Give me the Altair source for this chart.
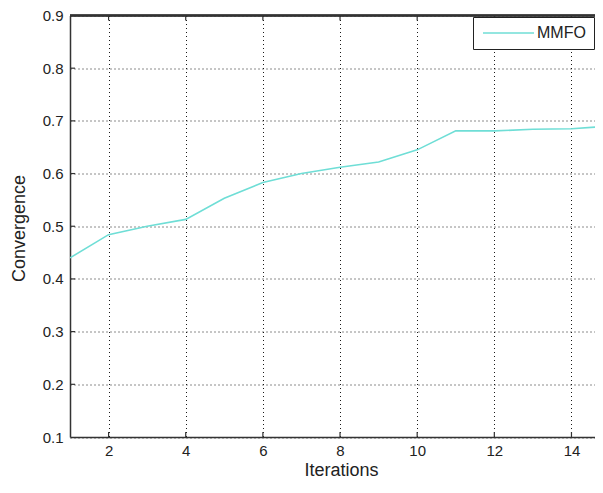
import altair as alt
import pandas as pd

iterations = list(range(1, 16))
convergence = [0.44, 0.484, 0.50, 0.513, 0.553, 0.583, 0.60, 0.612, 0.622,
               0.645, 0.681, 0.681, 0.684, 0.685, 0.69]
series_name = "MMFO"
x_ticks = [2, 4, 6, 8, 10, 12, 14]
y_ticks = [0.1, 0.2, 0.3, 0.4, 0.5, 0.6, 0.7, 0.8, 0.9]

W, H = 525, 421.5
FONT = "Liberation Sans"
LINE_COLOR = "#6fded6"

df = pd.DataFrame({"it": iterations, "val": convergence, "s": [series_name] * len(iterations)})
dx = pd.DataFrame({"t": x_ticks})
dy = pd.DataFrame({"t": y_ticks[1:-1]})

xscale = alt.Scale(domain=[1, 14.61], nice=False, zero=False)
yscale = alt.Scale(domain=[0.1, 0.9], nice=False, zero=False)

line = alt.Chart(df).mark_line(color=LINE_COLOR, strokeWidth=1.6, clip=True).encode(
    x=alt.X("it:Q", scale=xscale,
            axis=alt.Axis(values=x_ticks, title="Iterations", titleX=271, titleY=38,
                          titleBaseline="alphabetic", titleAlign="center")),
    y=alt.Y("val:Q", scale=yscale,
            axis=alt.Axis(values=y_ticks, format=".1f", title="Convergence",
                          titleX=-46, titleY=212.5, titleAngle=270,
                          titleBaseline="alphabetic", titleAlign="center")),
    color=alt.Color("s:N", scale=alt.Scale(range=[LINE_COLOR]),
                    legend=alt.Legend(title=None, orient="none", legendX=403, legendY=1.5,
                                      symbolType="M-1,0L7.5,0", symbolSize=144,
                                      symbolStrokeWidth=1.6, labelFontSize=16,
                                      labelFont=FONT, labelColor="#222",
                                      strokeColor="#222", fillColor="white",
                                      padding=8, labelOffset=40)),
)

xticks_bottom = alt.Chart(dx).mark_rule(color="#333", strokeWidth=1.2).encode(
    x=alt.X("t:Q", scale=xscale), y=alt.value(H), y2=alt.value(H - 5))
xticks_top = alt.Chart(dx).mark_rule(color="#333", strokeWidth=1.2).encode(
    x=alt.X("t:Q", scale=xscale), y=alt.value(0), y2=alt.value(5))
yticks_left = alt.Chart(dy).mark_rule(color="#333", strokeWidth=1.2).encode(
    y=alt.Y("t:Q", scale=yscale), x=alt.value(0), x2=alt.value(5))
top_border = alt.Chart(dx).mark_rule(color="#333", strokeWidth=1.5).encode(
    x=alt.value(0), x2=alt.value(W), y=alt.value(0))

chart = alt.layer(xticks_bottom, xticks_top, yticks_left, top_border, line).properties(
    width=W, height=H,
    autosize=alt.AutoSizeParams(type="none"),
    padding={"left": 62, "top": 7.5, "right": 0, "bottom": 42},
).configure_view(stroke=None).configure_axis(
    labelFont=FONT, labelFontSize=15, labelColor="#222",
    titleFont=FONT, titleFontSize=18, titleFontWeight="normal", titleColor="#222",
    domainColor="#333", domainWidth=1.5, ticks=False, labelPadding=7,
    grid=True, gridColor="#000", gridDash=[1, 3], gridOpacity=0.9, gridWidth=1,
).configure_axisX(labelPadding=6)

chart.save("out.html", embed_options={"renderer": "svg", "actions": False})
